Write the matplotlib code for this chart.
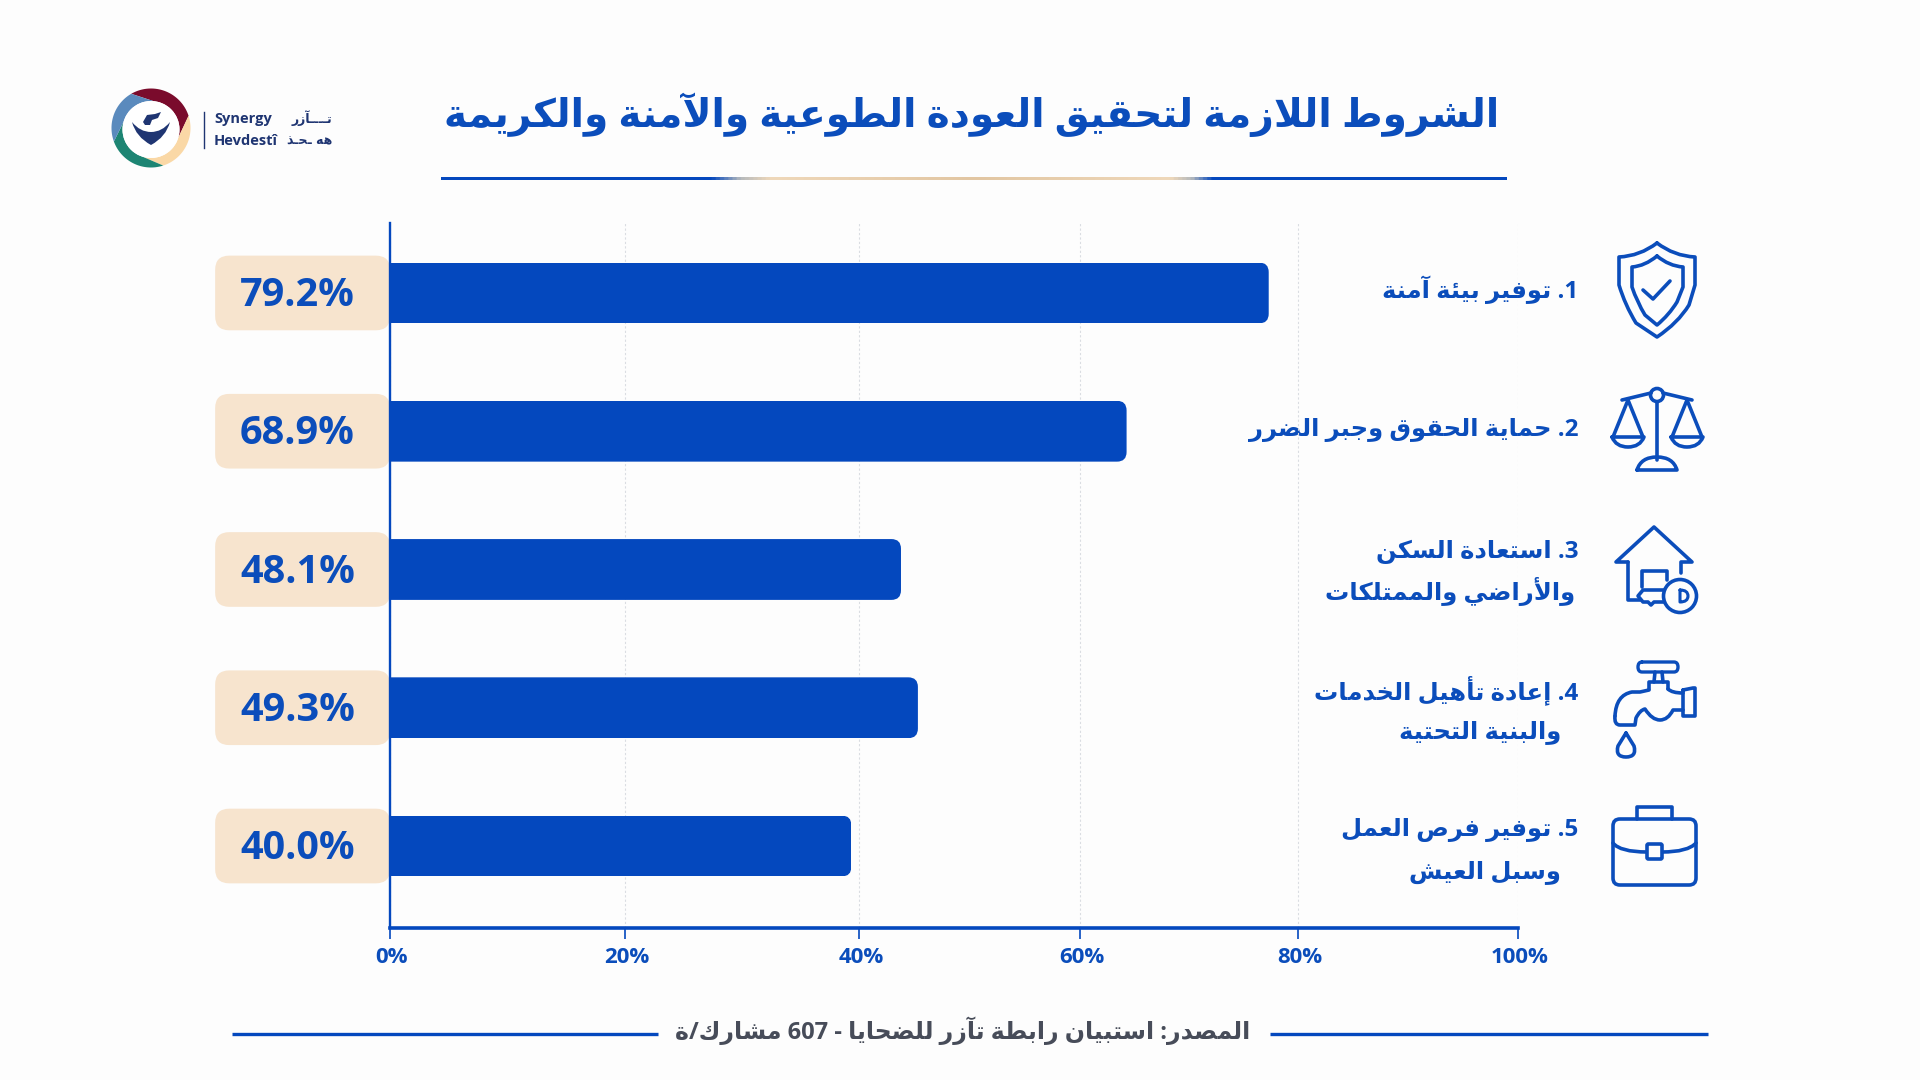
import re
import numpy as np
import matplotlib
matplotlib.use('Agg')
import matplotlib.pyplot as plt
from matplotlib.patches import FancyBboxPatch, Circle, PathPatch, Polygon
from matplotlib.path import Path
from matplotlib.colors import LinearSegmentedColormap
from matplotlib.transforms import ScaledTranslation

# values as printed next to the bars
value_labels = ['79.2%', '68.9%', '48.1%', '49.3%', '40.0%']
# bar ends read against the axis, they are a bit off the printed numbers
bar_values = [77.9, 65.3, 45.3, 46.8, 40.9]
categories = [0, 1, 2, 3, 4]
tick_positions = [0, 20.8, 41.6, 61.2, 80.5, 100]
tick_labels = ['0%', '20%', '40%', '60%', '80%', '100%']

title = 'الشروط اللازمة لتحقيق العودة الطوعية والآمنة والكريمة'
source = 'المصدر: استبيان رابطة تآزر للضحايا - 607 مشارك/ة'
label_lines = [
    ['1. توفير بيئة آمنة'],
    ['2. حماية الحقوق وجبر الضرر'],
    ['3. استعادة السكن', 'والأراضي والممتلكات'],
    ['4. إعادة تأهيل الخدمات', 'والبنية التحتية'],
    ['5. توفير فرص العمل', 'وسبل العيش'],
]

BLUE = '#0448BE'
TEXT_BLUE = '#0B4DBB'
PEACH = '#F7E4CE'
NAVY = '#1F3572'
BG = '#FDFDFD'

AR_FONT = ['Open Sans', 'DejaVu Sans']

# matplotlib does no arabic shaping, so map to presentation forms by hand
forms = {}
for ch, start, n in [('ء', 0xFE80, 1), ('آ', 0xFE81, 2), ('أ', 0xFE83, 2), ('ؤ', 0xFE85, 2),
                     ('إ', 0xFE87, 2), ('ئ', 0xFE89, 4), ('ا', 0xFE8D, 2), ('ب', 0xFE8F, 4),
                     ('ة', 0xFE93, 2), ('ت', 0xFE95, 4), ('ث', 0xFE99, 4), ('ج', 0xFE9D, 4),
                     ('ح', 0xFEA1, 4), ('خ', 0xFEA5, 4), ('د', 0xFEA9, 2), ('ذ', 0xFEAB, 2),
                     ('ر', 0xFEAD, 2), ('ز', 0xFEAF, 2), ('س', 0xFEB1, 4), ('ش', 0xFEB5, 4),
                     ('ص', 0xFEB9, 4), ('ض', 0xFEBD, 4), ('ط', 0xFEC1, 4), ('ظ', 0xFEC5, 4),
                     ('ع', 0xFEC9, 4), ('غ', 0xFECD, 4), ('ف', 0xFED1, 4), ('ق', 0xFED5, 4),
                     ('ك', 0xFED9, 4), ('ل', 0xFEDD, 4), ('م', 0xFEE1, 4), ('ن', 0xFEE5, 4),
                     ('ه', 0xFEE9, 4), ('و', 0xFEED, 2), ('ى', 0xFEEF, 2), ('ي', 0xFEF1, 4)]:
    forms[ch] = [chr(start + i) for i in range(n)]
lam_alef = {'آ': 0xFEF5, 'أ': 0xFEF7, 'إ': 0xFEF9, 'ا': 0xFEFB}
KASHIDA = '\u0640'


def joins_next(c):
    return c == KASHIDA or (c in forms and len(forms[c]) == 4)


def joins_prev(c):
    return c == KASHIDA or (c in forms and len(forms[c]) >= 2)


def shape(s):
    ''' logical arabic string -> visual string of presentation forms '''
    out = []
    prev_joins = False
    i = 0
    while i < len(s):
        c = s[i]
        nxt = s[i + 1] if i + 1 < len(s) else ''
        if c == 'ل' and nxt in lam_alef:
            out.append(chr(lam_alef[nxt] + (1 if prev_joins else 0)))
            prev_joins = False
            i += 2
            continue
        if c == KASHIDA:
            out.append(c)
            prev_joins = True
        elif c in forms:
            f = forms[c]
            to_next = joins_next(c) and joins_prev(nxt) if nxt else False
            if len(f) == 1:
                out.append(f[0])
            elif len(f) == 2:
                out.append(f[1] if prev_joins else f[0])
            else:
                if prev_joins and to_next:
                    out.append(f[3])
                elif prev_joins:
                    out.append(f[1])
                elif to_next:
                    out.append(f[2])
                else:
                    out.append(f[0])
            prev_joins = to_next
        else:
            out.append(c)
            prev_joins = False
        i += 1
    vis = ''.join(out)[::-1]
    # digits keep their own order
    return re.sub(r'\d+', lambda m: m.group(0)[::-1], vis)


fig = plt.figure(figsize=(19.2, 10.8), dpi=100, facecolor=BG)

# overlay in pixel coordinates for header, footer and the icons
bg = fig.add_axes([0, 0, 1, 1], zorder=0)
bg.set_xlim(0, 1920)
bg.set_ylim(1080, 0)
bg.axis('off')

# main chart, 390..1518 px wide, 223..928 px high
ax = fig.add_axes([390 / 1920, 1 - 928 / 1080, 1128 / 1920, 705 / 1080], zorder=1)
ax.patch.set_alpha(0)
ax.set_xlim(0, 100)
ax.set_ylim(4.593, -0.506)
aspect = 11.28 / 138.25

for s in ['top', 'right']:
    ax.spines[s].set_visible(False)
ax.spines['left'].set_color(BLUE)
ax.spines['left'].set_linewidth(1.7)
ax.spines['bottom'].set_color(BLUE)
ax.spines['bottom'].set_linewidth(2.6)
ax.set_yticks([])
ax.set_xticks(tick_positions)
ax.set_xticklabels(tick_labels, fontfamily='Open Sans', fontweight='bold', fontsize=16, color=TEXT_BLUE)
ax.tick_params(axis='x', length=8, width=1.2, color=BLUE, pad=6)
shift = ScaledTranslation(2 / 100, 0, fig.dpi_scale_trans)
for t in ax.get_xticklabels():
    t.set_transform(t.get_transform() + shift)
ax.grid(axis='x', color='#DADDE2', linewidth=0.8, linestyle=(0, (2, 2)))
ax.set_axisbelow(True)

bars = ax.barh(categories, bar_values, height=0.44, color=BLUE, zorder=3)
for b, v, y in zip(bars, bar_values, categories):
    # round only the far end, the left end is hidden behind the axis line
    clip = FancyBboxPatch((-3, y - 0.22), v + 3, 0.44, boxstyle='round,pad=0,rounding_size=0.85',
                          mutation_aspect=aspect, transform=ax.transData, fc='none', ec='none')
    ax.add_patch(clip)
    b.set_clip_path(clip)

for y, lab in zip(categories, value_labels):
    ax.add_patch(FancyBboxPatch((-15.5, y - 0.27), 15.5, 0.54, boxstyle='round,pad=0,rounding_size=1.25',
                                mutation_aspect=aspect, fc=PEACH, ec='none', clip_on=False, zorder=2))
    ax.text(-8.2, y + 0.02, lab, ha='center', va='center', fontfamily='Open Sans', fontweight='bold',
            fontsize=28.5, color=TEXT_BLUE, clip_on=False, zorder=4)

# title and rule under it
bg.text(972, 115, shape(title), ha='center', va='center', family=AR_FONT, fontweight='bold',
        fontsize=28.2, color=TEXT_BLUE)
cmap = LinearSegmentedColormap.from_list('rule', [(0, BLUE), (0.253, BLUE), (0.28, '#B5B9BC'), (0.309, '#EFD8BA'),
                                                  (0.5, '#E2C6A2'), (0.685, '#EFD8BA'), (0.705, '#B5B9BC'),
                                                  (0.725, BLUE), (1, BLUE)])
bg.imshow(np.linspace(0, 1, 512).reshape(1, -1), cmap=cmap, extent=(441, 1507, 180.5, 177.5), aspect='auto', zorder=1)
bg.set_xlim(0, 1920)
bg.set_ylim(1080, 0)

# category labels: right edge and centre height of each line
label_x = [[1578], [1578], [1578, 1575], [1578, 1561], [1578, 1561]]
label_y = [[290], [430], [552, 592], [690, 732], [830, 872]]
for lines, xs, ys in zip(label_lines, label_x, label_y):
    for txt, x, y in zip(lines, xs, ys):
        bg.text(x, y, shape(txt), ha='right', va='center', family=AR_FONT, fontweight='bold',
                fontsize=17.5, color=TEXT_BLUE)

# footer
bg.plot([232, 658], [1034, 1034], color=BLUE, lw=2.4, solid_capstyle='butt')
bg.plot([1270, 1708], [1034, 1034], color=BLUE, lw=2.4, solid_capstyle='butt')
bg.text(963, 1031, shape(source), ha='center', va='center', family=AR_FONT, fontweight='bold',
        fontsize=17, color='#474C59')


def line(pts, lw=2.6, color=TEXT_BLUE):
    xs, ys = zip(*pts)
    bg.plot(xs, ys, color=color, lw=lw, solid_capstyle='round', solid_joinstyle='round', zorder=3)


def curve(verts, codes, fc='none', ec=TEXT_BLUE, lw=2.6):
    p = PathPatch(Path(verts, codes), fc=fc, ec=ec, lw=lw, joinstyle='round', capstyle='round', zorder=3)
    bg.add_patch(p)


M, L, Q = Path.MOVETO, Path.LINETO, Path.CURVE3

# shield
curve([(1657, 243), (1640, 256), (1619, 257), (1619, 285), (1625, 305), (1636, 323), (1657, 337),
       (1678, 323), (1689, 305), (1695, 285), (1695, 257), (1674, 256), (1657, 243)],
      [M, Q, Q, L, Q, Q, L, Q, Q, L, L, Q, Q])
curve([(1657, 256), (1645, 266), (1632, 267), (1632, 287), (1637, 302), (1645, 315), (1657, 325),
       (1669, 315), (1677, 302), (1683, 287), (1683, 267), (1669, 266), (1657, 256)],
      [M, Q, Q, L, Q, Q, L, Q, Q, L, L, Q, Q])
line([(1643, 290), (1653, 299), (1670, 281)])

# scales
bg.add_patch(Circle((1657, 395), 6.5, fc='none', ec=TEXT_BLUE, lw=2.6, zorder=3))
line([(1622, 400), (1651, 393)])
line([(1663, 393), (1692, 400)])
line([(1657, 402), (1657, 460)])
curve([(1637, 470), (1641, 457), (1657, 457), (1673, 457), (1677, 470), (1637, 470)], [M, Q, Q, Q, Q, L])
line([(1613, 437), (1628, 400), (1643, 437)])
line([(1672, 437), (1687, 400), (1702, 437)])
curve([(1612, 437), (1616, 447), (1628, 447), (1640, 447), (1644, 437), (1612, 437)], [M, Q, Q, Q, Q, L])
curve([(1671, 437), (1675, 447), (1687, 447), (1699, 447), (1703, 437), (1671, 437)], [M, Q, Q, Q, Q, L])

# house with key
line([(1628, 562), (1616, 562), (1654, 527), (1692, 562), (1681, 562), (1681, 573)])
line([(1628, 562), (1628, 600), (1640, 600)])
line([(1642, 587), (1642, 571), (1667, 571), (1667, 580)])
bg.add_patch(Circle((1680, 596), 16.5, fc='none', ec=TEXT_BLUE, lw=2.6, zorder=3))
line([(1664, 590), (1643, 590), (1638, 596), (1643, 602), (1648, 602), (1651, 605), (1654, 602), (1664, 602)])
curve([(1680, 590), (1688, 590), (1688, 596), (1688, 602), (1680, 602), (1680, 590)], [M, Q, Q, Q, Q, L], lw=2.2)

# tap
curve([(1642, 662), (1674, 662), (1678, 662), (1678, 667), (1678, 672), (1674, 672), (1642, 672),
       (1638, 672), (1638, 667), (1638, 662), (1642, 662)], [M, L, Q, Q, Q, Q, L, Q, Q, Q, Q], lw=2.4)
line([(1655, 672), (1654, 682)])
line([(1662, 672), (1663, 682)])
line([(1649, 689), (1649, 682), (1668, 682), (1668, 689)])
curve([(1668, 689), (1672, 693), (1683, 693)], [M, Q, Q])
curve([(1649, 690), (1640, 692), (1632, 692), (1616, 695), (1615, 716)], [M, L, L, Q, Q])
curve([(1615, 716), (1614, 725), (1620, 725), (1635, 725), (1636, 718), (1640, 710), (1645, 709),
       (1652, 720), (1660, 720), (1668, 720), (1673, 710), (1683, 710)],
      [M, Q, Q, L, L, Q, Q, Q, Q, Q, Q, L])
curve([(1683, 690), (1693, 688), (1695, 688), (1695, 692), (1695, 716), (1684, 716), (1683, 716), (1683, 690)],
      [M, L, L, L, L, L, L, L])
curve([(1626, 733), (1618, 746), (1615, 757), (1626, 757), (1637, 757), (1634, 746), (1626, 733)],
      [M, L, Q, Q, Q, Q, L])

# briefcase
bg.add_patch(FancyBboxPatch((1613, 819), 83, 66, boxstyle='round,pad=0,rounding_size=7', fc='none',
                            ec=TEXT_BLUE, lw=2.6, zorder=3))
curve([(1637, 819), (1637, 807), (1642, 807), (1668, 807), (1672, 807), (1672, 819)], [M, L, L, L, L, L])
curve([(1613, 843), (1620, 852), (1647, 852)], [M, Q, Q])
curve([(1662, 852), (1688, 852), (1696, 843)], [M, Q, Q])
bg.add_patch(FancyBboxPatch((1647, 844), 15, 15, boxstyle='round,pad=0,rounding_size=1.5', fc=BG,
                            ec=TEXT_BLUE, lw=2.6, zorder=3))

# logo: four swirled segments round a white centre
cx, cy, r_out, r_in = 151, 128, 39.5, 28.5
seg_colors = ['#7A0B2C', '#FAD8A6', '#1D8573', '#5A8ABD']
seg_start = [120, 18, -72, -160]
seg_end = [18, -72, -160, -240]
for col, a, e in zip(seg_colors, seg_start, seg_end):
    out = np.radians(np.linspace(a, e, 40))
    # inner edge runs on under the next segment, so no white slivers stay
    inn = np.radians(np.linspace(e - 35, a - 35, 30))
    pts = np.r_[np.c_[cx + r_out * np.cos(out), cy - r_out * np.sin(out)],
                np.c_[cx + r_in * np.cos(inn), cy + 1.5 - r_in * np.sin(inn)]]
    bg.add_patch(Polygon(pts, closed=True, fc=col, ec='none', zorder=2))
bg.add_patch(Circle((cx, cy + 1.5), r_in, fc='white', ec='none', zorder=2.5))
curve([(132, 122), (136, 137), (151, 145), (166, 137), (170, 122), (162, 132), (151, 132), (140, 132), (132, 122)],
      [M, Q, Q, Q, Q, Q, Q, Q, Q], fc=NAVY, ec='none', lw=0)
bg.add_patch(Polygon([(143, 122), (147, 115), (155, 114), (161, 112), (158, 118), (152, 120), (150, 125), (145, 125)],
                     closed=True, fc=NAVY, ec='none', zorder=3))
bg.plot([204, 204], [112, 148], color=NAVY, lw=1)
bg.text(214, 119, 'Synergy', ha='left', va='center', family='Open Sans', fontweight='bold', fontsize=10.5, color=NAVY)
bg.text(214, 141, 'Hevdestî', ha='left', va='center', family='Open Sans', fontweight='bold', fontsize=10.5, color=NAVY)
bg.text(332, 118, shape('تــــآزر'), ha='right', va='center', family='DejaVu Sans', fontweight='bold',
        fontsize=9, color=NAVY)
bg.text(332, 141, shape('هه ـحـذ'), ha='right', va='center', family='DejaVu Sans', fontweight='bold',
        fontsize=9, color=NAVY)

fig.savefig('out.png', dpi=100, facecolor=BG)
